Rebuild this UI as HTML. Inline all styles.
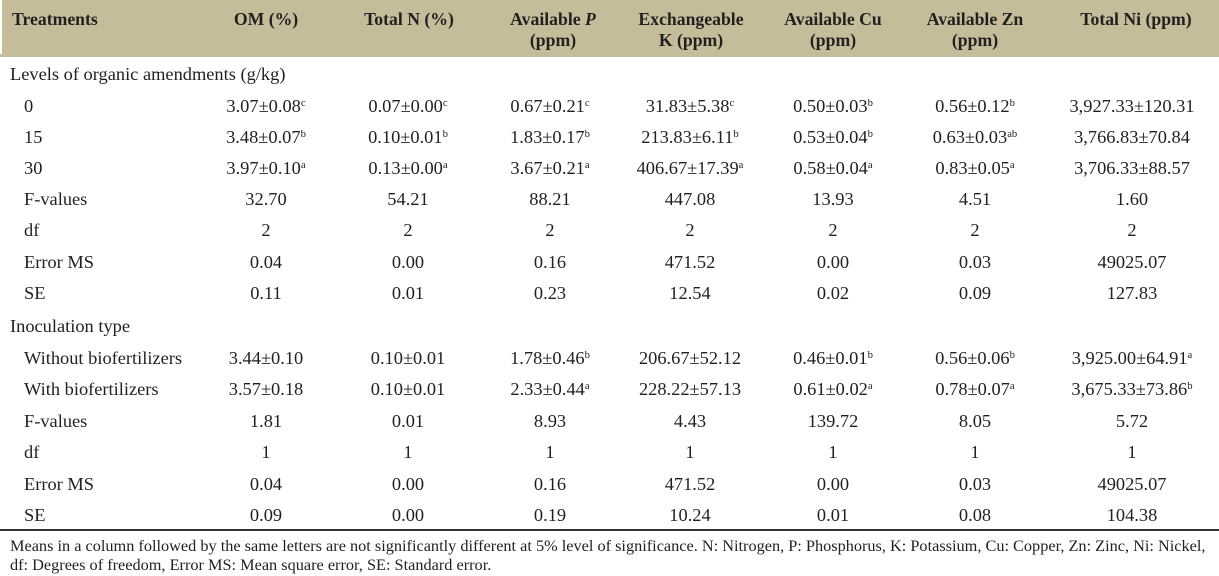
<!DOCTYPE html>
<html>
<head>
<meta charset="utf-8">
<style>
  html, body { margin:0; padding:0; background:#fff; }
  body { width:1219px; height:576px; position:relative; overflow:hidden;
         font-family:"Liberation Serif", "Times New Roman", serif; color:#231f20; }
  .hdr { position:absolute; left:0; top:0; width:1219px; height:57px; background:#c5bc99; }
  .strip { position:absolute; left:0; top:0; width:2px; height:54px; background:#fff; }
  .row { position:absolute; left:0; width:1219px; height:20px; font-size:18.4px; line-height:20px; white-space:nowrap; }
  .row span { position:absolute; top:0; width:200px; text-align:center; }
  .row span:nth-child(1) { left:24px; width:auto; text-align:left; }
  .row span:nth-child(2) { left:166px; }
  .row span:nth-child(3) { left:308px; }
  .row span:nth-child(4) { left:450px; }
  .row span:nth-child(5) { left:590px; }
  .row span:nth-child(6) { left:733px; }
  .row span:nth-child(7) { left:875px; }
  .row span:nth-child(8) { left:1032px; }
  .row.h { font-weight:bold; height:42px; font-size:17.7px; line-height:21px; }
  .row.h span:nth-child(1) { left:12px; }
  .row.h span:nth-child(3) { left:309px; }
  .row.h span:nth-child(4) { left:453px; }
  .row.h span:nth-child(5) { left:591px; }
  .row.h span:nth-child(8) { left:1036px; }
  .grp { position:absolute; left:10px; font-size:18.4px; line-height:20px; white-space:nowrap; }
  sup { font-size:0.58em; vertical-align:baseline; position:relative; top:-0.55em; line-height:0; }
  .rule { position:absolute; left:0; top:529px; width:1219px; height:2px; background:#333; }
  .foot { position:absolute; left:10px; top:536px; font-size:16.3px; line-height:19px; white-space:nowrap; }
</style>
</head>
<body>
<div class="hdr"></div>
<div class="strip"></div>

<div class="row h" style="top:9px">
  <span>Treatments</span><span>OM (%)</span><span>Total N (%)</span><span>Available <i>P</i><br>(ppm)</span><span>Exchangeable<br>K (ppm)</span><span>Available Cu<br>(ppm)</span><span>Available Zn<br>(ppm)</span><span>Total Ni (ppm)</span>
</div>

<div class="grp" style="top:64px">Levels of organic amendments (g/kg)</div>

<div class="row" style="top:96px"><span>0</span><span>3.07±0.08<sup>c</sup></span><span>0.07±0.00<sup>c</sup></span><span>0.67±0.21<sup>c</sup></span><span>31.83±5.38<sup>c</sup></span><span>0.50±0.03<sup>b</sup></span><span>0.56±0.12<sup>b</sup></span><span>3,927.33±120.31</span></div>
<div class="row" style="top:127px"><span>15</span><span>3.48±0.07<sup>b</sup></span><span>0.10±0.01<sup>b</sup></span><span>1.83±0.17<sup>b</sup></span><span>213.83±6.11<sup>b</sup></span><span>0.53±0.04<sup>b</sup></span><span>0.63±0.03<sup>ab</sup></span><span>3,766.83±70.84</span></div>
<div class="row" style="top:158px"><span>30</span><span>3.97±0.10<sup>a</sup></span><span>0.13±0.00<sup>a</sup></span><span>3.67±0.21<sup>a</sup></span><span>406.67±17.39<sup>a</sup></span><span>0.58±0.04<sup>a</sup></span><span>0.83±0.05<sup>a</sup></span><span>3,706.33±88.57</span></div>
<div class="row" style="top:189px"><span>F-values</span><span>32.70</span><span>54.21</span><span>88.21</span><span>447.08</span><span>13.93</span><span>4.51</span><span>1.60</span></div>
<div class="row" style="top:220px"><span>df</span><span>2</span><span>2</span><span>2</span><span>2</span><span>2</span><span>2</span><span>2</span></div>
<div class="row" style="top:252px"><span>Error MS</span><span>0.04</span><span>0.00</span><span>0.16</span><span>471.52</span><span>0.00</span><span>0.03</span><span>49025.07</span></div>
<div class="row" style="top:283px"><span>SE</span><span>0.11</span><span>0.01</span><span>0.23</span><span>12.54</span><span>0.02</span><span>0.09</span><span>127.83</span></div>

<div class="grp" style="top:316px">Inoculation type</div>

<div class="row" style="top:348px"><span>Without biofertilizers</span><span>3.44±0.10</span><span>0.10±0.01</span><span>1.78±0.46<sup>b</sup></span><span>206.67±52.12</span><span>0.46±0.01<sup>b</sup></span><span>0.56±0.06<sup>b</sup></span><span>3,925.00±64.91<sup>a</sup></span></div>
<div class="row" style="top:379px"><span>With biofertilizers</span><span>3.57±0.18</span><span>0.10±0.01</span><span>2.33±0.44<sup>a</sup></span><span>228.22±57.13</span><span>0.61±0.02<sup>a</sup></span><span>0.78±0.07<sup>a</sup></span><span>3,675.33±73.86<sup>b</sup></span></div>
<div class="row" style="top:411px"><span>F-values</span><span>1.81</span><span>0.01</span><span>8.93</span><span>4.43</span><span>139.72</span><span>8.05</span><span>5.72</span></div>
<div class="row" style="top:442px"><span>df</span><span>1</span><span>1</span><span>1</span><span>1</span><span>1</span><span>1</span><span>1</span></div>
<div class="row" style="top:474px"><span>Error MS</span><span>0.04</span><span>0.00</span><span>0.16</span><span>471.52</span><span>0.00</span><span>0.03</span><span>49025.07</span></div>
<div class="row" style="top:505px"><span>SE</span><span>0.09</span><span>0.00</span><span>0.19</span><span>10.24</span><span>0.01</span><span>0.08</span><span>104.38</span></div>

<div class="rule"></div>

<div class="foot">Means in a column followed by the same letters are not significantly different at 5% level of significance. N: Nitrogen, P: Phosphorus, K: Potassium, Cu: Copper, Zn: Zinc, Ni: Nickel,<br>df: Degrees of freedom, Error MS: Mean square error, SE: Standard error.</div>
</body>
</html>
